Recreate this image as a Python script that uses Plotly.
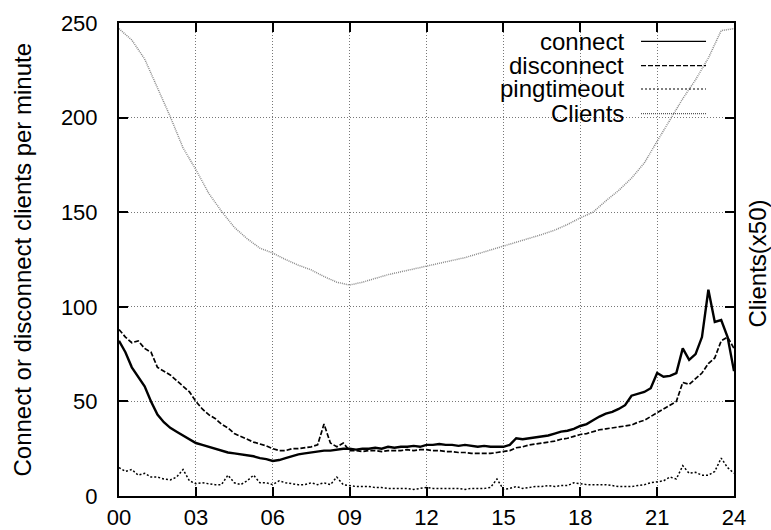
import plotly.graph_objects as go

# ---- data ----
hours_q = [i * 0.25 for i in range(97)]   # quarter-hour time stamps 00:00 .. 24:00

connect = [82, 76, 68, 63, 58, 50, 43, 39, 36, 34, 32, 30,
           28, 27, 26, 25, 24, 23, 22.5, 22, 21.5, 21, 20, 19.5,
           18.5, 19, 20, 21, 22, 22.5, 23, 23.5, 24, 24, 24.5, 25,
           25, 24.5, 25, 25, 25.5, 25, 26, 25.5, 26, 26, 26.5, 26,
           27, 27, 27.5, 27, 27, 26.5, 27, 26.5, 26, 26.5, 26, 26,
           26, 27, 30.5, 30, 30.5, 31, 31.5, 32, 33, 34, 34.5, 35.5,
           37, 38, 40, 42, 43.5, 44.5, 46, 48, 53, 54, 55, 57,
           65, 63, 63.5, 65, 78, 72, 75, 84, 109, 92, 93, 84, 66]

disconnect = [88, 84, 81, 82, 78, 76, 68, 66, 64, 61, 58, 55,
              50, 46, 43, 41, 38, 36, 33, 31.5, 30, 28.5, 27.5, 26.5,
              25, 24, 24, 25, 25, 25.5, 26, 27, 38, 28, 26, 28,
              24, 24, 23.5, 24, 24, 23.5, 24, 24, 24, 24.5, 24, 24.5,
              24.5, 24, 24, 23.5, 23.5, 23, 23, 22.5, 22.5, 22.5, 22.5, 23,
              23.5, 24, 25.5, 26, 27, 27.5, 28, 28.5, 29, 30, 30.5, 31.5,
              32.5, 33, 34, 35, 35.5, 36, 36.5, 37, 37.5, 39, 40, 42,
              44, 46, 48, 50, 60, 59, 62, 65, 70, 73, 82, 84, 78]

pingtimeout = [15, 13, 14, 11, 12, 10, 10, 9, 8.5, 10, 14, 8,
               6.5, 7, 6.5, 6, 6, 11, 7, 6, 8, 11, 7, 7,
               6, 8, 7, 6.5, 6, 6, 7, 6, 7, 6, 10, 6,
               5.5, 5, 5, 5, 4.5, 4.5, 4, 4, 4, 4, 3.5, 4,
               4.5, 4, 4, 4, 4, 4, 3.5, 4, 4, 4, 4.5, 9,
               3.5, 4, 5, 4, 4.5, 5, 5, 5.5, 5, 5.5, 5.5, 7,
               6.5, 6, 6, 6, 6, 5.5, 5, 5, 5, 5.5, 6, 7,
               7.5, 8, 10, 9, 16, 12, 12.5, 11, 11, 13, 20, 15, 12]

hours_h = [i * 0.5 for i in range(49)]    # half-hour time stamps
clients_x50 = [247, 241, 231, 216, 200.5, 184, 172.5, 160, 150.5, 142, 136, 131,
               128.4, 125, 122, 119.5, 116, 113, 111.5, 113, 115, 117, 118.5, 120,
               121.2, 122.8, 124.5, 126, 128, 130, 132, 134, 136, 138.2, 140.5, 143.5,
               147, 150, 156, 161.5, 168, 176, 187.5, 198.5, 210, 220, 231.5, 246, 247]

x_tickvals = [0, 3, 6, 9, 12, 15, 18, 21, 24]
x_ticktext = ["00", "03", "06", "09", "12", "15", "18", "21", "24"]
y_tickvals = [0, 50, 100, 150, 200, 250]
series_names = ["connect", "disconnect", "pingtimeout", "Clients"]

# ---- styles ----
FONT = "Liberation Sans, Arial, Helvetica, sans-serif"
FS = 24      # titles and key
FS_TICK = 22 # tick labels
styles = [
    dict(color="black", width=2.4, dash="solid"),
    dict(color="black", width=1.7, dash="5px,2px"),
    dict(color="black", width=1.5, dash="2px,2px"),
    dict(color="#8a8a8a", width=1.5, dash="1px,1px"),
]

fig = go.Figure()
for name, xs, ys, st in zip(series_names,
                            [hours_q, hours_q, hours_q, hours_h],
                            [connect, disconnect, pingtimeout, clients_x50],
                            styles):
    fig.add_trace(go.Scatter(x=xs, y=ys, mode="lines", name=name,
                             line=st, showlegend=False, hoverinfo="skip"))

# custom gnuplot-style key: right-aligned text, sample line to the right
key_y = [0.9613, 0.9097, 0.8605, 0.8083]
for name, ky, st in zip(series_names, key_y, styles):
    fig.add_annotation(xref="paper", yref="paper", x=0.8228, y=ky,
                       text=name, showarrow=False, xanchor="right", yanchor="middle",
                       borderpad=0,
                       font=dict(family=FONT, size=FS, color="black"))
    fig.add_shape(type="line", xref="paper", yref="paper",
                  x0=0.8488, x1=0.9545, y0=ky, y1=ky,
                  line=dict(color="black" if st["color"] == "black" else "#555",
                            width=1.2, dash=st["dash"]), layer="above")

# key box hides the grid (but not the data)
fig.add_shape(type="rect", xref="paper", yref="paper",
              x0=0.5626, x1=0.977, y0=0.7865, y1=1.0,
              fillcolor="white", line=dict(width=0), layer="between")

# axis titles
fig.add_annotation(xref="paper", yref="paper", x=-0.1577, y=0.5,
                   text="Connect or disconnect clients per minute", textangle=-90,
                   showarrow=False, xanchor="center", yanchor="middle",
                   font=dict(family=FONT, size=FS, color="black"))
fig.add_annotation(xref="paper", yref="paper", x=1.039, y=0.4915,
                   text="Clients(x50)", textangle=-90,
                   showarrow=False, xanchor="center", yanchor="middle",
                   font=dict(family=FONT, size=FS, color="black"))

axis_common = dict(
    showline=True, linecolor="black", linewidth=2, mirror="allticks",
    ticks="inside", ticklen=9, tickwidth=1.5, tickcolor="black",
    showgrid=True, gridcolor="#777777", gridwidth=1, griddash="1px,2px",
    zeroline=False, automargin=False,
    tickfont=dict(family=FONT, size=FS_TICK, color="black"),
)

fig.update_layout(
    width=771, height=530,
    margin=dict(l=119, r=37, t=23, b=34, autoexpand=False),
    paper_bgcolor="white", plot_bgcolor="white",
    xaxis=dict(range=[0, 24], tickvals=x_tickvals, ticktext=x_ticktext,
               ticklabelstandoff=1, **axis_common),
    yaxis=dict(range=[0, 250], tickvals=y_tickvals,
               ticklabelstandoff=15, **axis_common),
)

fig.write_html("out.html")
